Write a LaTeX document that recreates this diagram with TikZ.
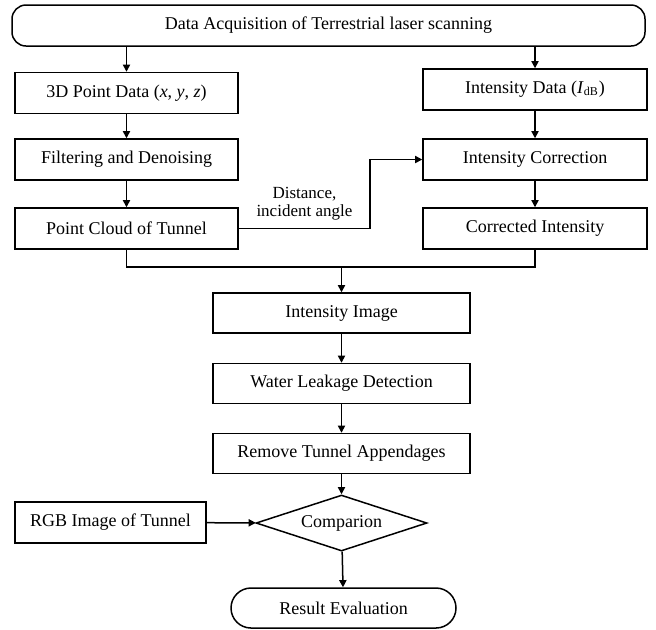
\documentclass[tikz,border=0pt]{standalone}
\usepackage{fontspec}
\setmainfont{Liberation Serif}
\usepackage{tikz}
\usetikzlibrary{positioning,arrows.meta,shapes.geometric}

\begin{document}
\begin{tikzpicture}[x=0.5pt, y=-0.5pt,
  every node/.style={font=\fontsize{9}{10.5}\selectfont},
  box/.style={draw, line width=0.75pt, inner sep=0pt, align=center, minimum height=20.5pt},
  sidebox/.style={box, minimum width=112pt},
  midbox/.style={box, minimum width=128.5pt, minimum height=20pt},
  term/.style={box, rounded corners=9pt},
  decide/.style={draw, line width=0.75pt, diamond, aspect=3, inner sep=0pt, minimum width=85.5pt, minimum height=28pt},
  lbl/.style={font=\fontsize{8.5}{9}\selectfont, align=center},
  line/.style={line width=0.75pt},
  arr/.style={line, -{Triangle[length=3.6pt, width=3.6pt]}}]
\useasboundingbox (0,0) rectangle (656,629);
\node[term, minimum width=316.5pt, rounded corners=7pt] (tls) at (328.5,25.5) {Data Acquisition of Terrestrial laser scanning};
\node[sidebox, minimum width=111.5pt] (xyz) at (126.5,93) {3D Point Data (\textit{x}, \textit{y}, \textit{z})};
\node[sidebox] (idb) at (535,89.5) {Intensity Data (\textit{I}\textsubscript{dB})};
\node[sidebox, minimum width=111.5pt] (filt) at (126.5,159.5) {Filtering and Denoising};
\node[sidebox] (icorr) at (535,159.5) {Intensity Correction};
\node[sidebox, minimum width=111.5pt] (pc) at (126.5,228.5) {Point Cloud of Tunnel};
\node[sidebox] (cint) at (535,228.5) {Corrected Intensity};
\coordinate (mrg) at (341.5,267);
\node[midbox] (img) at (341.5,313) {Intensity Image};
\node[midbox] (leak) at (341.5,383.5) {Water Leakage Detection};
\node[midbox] (rem) at (341.5,453.5) {Remove Tunnel Appendages};
\node[decide] (comp) at (341.5,523) {Comparion};
\node[box, minimum width=95.5pt] (rgb) at (110.5,522.5) {RGB Image of Tunnel};
\node[term, minimum width=112.5pt, minimum height=20pt, rounded corners=10pt] (res) at (343.5,608) {Result Evaluation};
\draw[arr] (tls.south -| xyz) -- (xyz);
\draw[arr] (tls.south -| idb) -- (idb);
\draw[arr] (xyz) -- (filt);
\draw[arr] (filt) -- (pc);
\draw[arr] (idb) -- (icorr);
\draw[arr] (icorr) -- (cint);
\draw[arr] (pc.east) -- ++(131,0) |- node[lbl, pos=0.18, left=5pt] {Distance,\\incident angle} (icorr.west);
\draw[line] (pc) |- (mrg) -| (cint);
\draw[arr] (mrg) -- (img);
\draw[arr] (img) -- (leak);
\draw[arr] (leak) -- (rem);
\draw[arr] (rem) -- (comp);
\draw[arr] (rgb) -- (comp);
\draw[arr] (comp) -- (res);
\end{tikzpicture}
\end{document}
